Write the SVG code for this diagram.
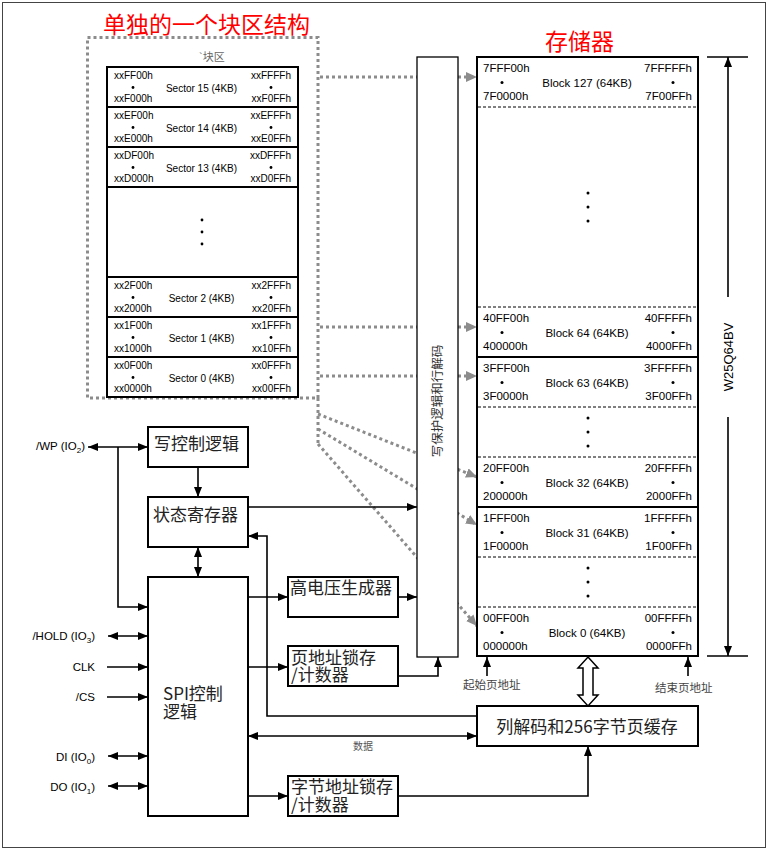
<svg xmlns="http://www.w3.org/2000/svg" width="769" height="850" viewBox="0 0 769 850">
<style>
.box{fill:#fff;stroke:#000;stroke-width:2}
.thin{fill:#fff;stroke:#000;stroke-width:1.3}
.ln{fill:none;stroke:#000;stroke-width:1.6}
.gd{fill:none;stroke:#8c8c8c;stroke-width:3;stroke-dasharray:3 3}
.dash{fill:none;stroke:#000;stroke-width:1;stroke-dasharray:3 2}
.sep{fill:none;stroke:#000;stroke-width:1.8}
.s{font-family:"Liberation Sans",Arial,sans-serif;font-size:10px;fill:#000}
.m{font-family:"Liberation Sans",Arial,sans-serif;font-size:11.5px;fill:#000}
.sig{font-family:"Liberation Sans",Arial,sans-serif;font-size:11.5px;fill:#000;text-anchor:end}
.c{font-family:"Noto Sans CJK SC",sans-serif;font-size:17px;fill:#222}
.lab{font-family:"Noto Sans CJK SC",sans-serif;font-size:11.5px;fill:#444}
.red{font-family:"Noto Sans CJK SC",sans-serif;font-size:23px;fill:#f00}
.e{text-anchor:end}
.mid{text-anchor:middle}
</style>
<defs>
<marker id="ah" viewBox="0 0 10 8" refX="10" refY="4" markerWidth="10" markerHeight="8" markerUnits="userSpaceOnUse" orient="auto-start-reverse"><path d="M0,0L10,4L0,8z" fill="#000"/></marker>
<marker id="gh" viewBox="0 0 10 9" refX="10" refY="4.5" markerWidth="11" markerHeight="10" markerUnits="userSpaceOnUse" orient="auto"><path d="M0,0L10,4.5L0,9z" fill="#8c8c8c"/></marker>
</defs>
<rect x="2.5" y="2.5" width="763" height="845" fill="#fff" stroke="#444" stroke-width="1"/>

<text class="red" x="103" y="33">单独的一个块区结构</text>
<text class="red" x="545" y="50">存储器</text>

<g id="dotted-links">
<rect class="gd" x="87.5" y="37.5" width="230.5" height="360.5"/>
<path class="gd" d="M318,398V446"/>
<path class="gd" d="M320,77H477" marker-end="url(#gh)"/>
<path class="gd" d="M320,327H477" marker-end="url(#gh)"/>
<path class="gd" d="M320,376H477" marker-end="url(#gh)"/>
<path class="gd" d="M318,414L477,477" marker-end="url(#gh)"/>
<path class="gd" d="M318,429L477,525" marker-end="url(#gh)"/>
<path class="gd" d="M318,444L477,626" marker-end="url(#gh)"/>
</g>

<g id="sector-block">
<text x="199" y="60.5" font-family="Liberation Sans,Noto Sans CJK SC,sans-serif" font-size="11" fill="#666">`块区</text>
<rect class="box" x="107" y="67" width="191" height="330" fill="none"/>
<path class="sep" d="M107,107H298M107,147H298M107,187H298M107,277H298M107,317H298M107,357H298"/>
<g class="s">
<text x="114" y="79">xxFF00h</text><text x="114" y="102">xxF000h</text><text class="e" x="291" y="79">xxFFFFh</text><text class="e" x="291" y="102">xxF0FFh</text><text class="mid" x="201.5" y="91.5">Sector 15 (4KB)</text>
<text x="114" y="119">xxEF00h</text><text x="114" y="142">xxE000h</text><text class="e" x="291" y="119">xxEFFFh</text><text class="e" x="291" y="142">xxE0FFh</text><text class="mid" x="201.5" y="131.5">Sector 14 (4KB)</text>
<text x="114" y="159">xxDF00h</text><text x="114" y="182">xxD000h</text><text class="e" x="291" y="159">xxDFFFh</text><text class="e" x="291" y="182">xxD0FFh</text><text class="mid" x="201.5" y="171.5">Sector 13 (4KB)</text>
<text x="114" y="289">xx2F00h</text><text x="114" y="312">xx2000h</text><text class="e" x="291" y="289">xx2FFFh</text><text class="e" x="291" y="312">xx20FFh</text><text class="mid" x="201.5" y="301.5">Sector 2 (4KB)</text>
<text x="114" y="329">xx1F00h</text><text x="114" y="352">xx1000h</text><text class="e" x="291" y="329">xx1FFFh</text><text class="e" x="291" y="352">xx10FFh</text><text class="mid" x="201.5" y="341.5">Sector 1 (4KB)</text>
<text x="114" y="369">xx0F00h</text><text x="114" y="392">xx0000h</text><text class="e" x="291" y="369">xx0FFFh</text><text class="e" x="291" y="392">xx00FFh</text><text class="mid" x="201.5" y="381.5">Sector 0 (4KB)</text>
</g>
<g fill="#000">
<circle cx="133" cy="87.5" r="1.4"/><circle cx="271" cy="87.5" r="1.4"/>
<circle cx="133" cy="127.5" r="1.4"/><circle cx="271" cy="127.5" r="1.4"/>
<circle cx="133" cy="167.5" r="1.4"/><circle cx="271" cy="167.5" r="1.4"/>
<circle cx="133" cy="297.5" r="1.4"/><circle cx="271" cy="297.5" r="1.4"/>
<circle cx="133" cy="337.5" r="1.4"/><circle cx="271" cy="337.5" r="1.4"/>
<circle cx="133" cy="377.5" r="1.4"/><circle cx="271" cy="377.5" r="1.4"/>
<circle cx="202" cy="220" r="1.4"/><circle cx="202" cy="232" r="1.4"/><circle cx="202" cy="244" r="1.4"/>
</g>
</g>

<g id="decoder">
<rect class="thin" x="417" y="57" width="41" height="600"/>
<text transform="translate(442,401) rotate(-90)" font-family="Noto Sans CJK SC,sans-serif" font-size="12.5" fill="#333" text-anchor="middle">写保护逻辑和行解码</text>
</g>

<g id="memory">
<rect class="box" x="477" y="57" width="221" height="599"/>
<path class="dash" d="M478,107H697M478,307H697M478,407H697M478,457H697M478,557H697M478,607H697"/>
<path class="sep" d="M477,357H698M477,507H698"/>
<g class="m">
<text x="483" y="72">7FFF00h</text><text x="483" y="100">7F0000h</text><text class="e" x="692" y="72">7FFFFFh</text><text class="e" x="692" y="100">7F00FFh</text><text class="mid" x="587" y="87">Block 127 (64KB)</text>
<text x="483" y="322">40FF00h</text><text x="483" y="350">400000h</text><text class="e" x="692" y="322">40FFFFh</text><text class="e" x="692" y="350">4000FFh</text><text class="mid" x="587" y="337">Block 64 (64KB)</text>
<text x="483" y="372">3FFF00h</text><text x="483" y="400">3F0000h</text><text class="e" x="692" y="372">3FFFFFh</text><text class="e" x="692" y="400">3F00FFh</text><text class="mid" x="587" y="387">Block 63 (64KB)</text>
<text x="483" y="472">20FF00h</text><text x="483" y="500">200000h</text><text class="e" x="692" y="472">20FFFFh</text><text class="e" x="692" y="500">2000FFh</text><text class="mid" x="587" y="487">Block 32 (64KB)</text>
<text x="483" y="522">1FFF00h</text><text x="483" y="550">1F0000h</text><text class="e" x="692" y="522">1FFFFFh</text><text class="e" x="692" y="550">1F00FFh</text><text class="mid" x="587" y="537">Block 31 (64KB)</text>
<text x="483" y="622">00FF00h</text><text x="483" y="650">000000h</text><text class="e" x="692" y="622">00FFFFh</text><text class="e" x="692" y="650">0000FFh</text><text class="mid" x="587" y="637">Block 0 (64KB)</text>
</g>
<g fill="#000">
<circle cx="502" cy="82.5" r="1.5"/><circle cx="673" cy="82.5" r="1.5"/>
<circle cx="502" cy="332.5" r="1.5"/><circle cx="673" cy="332.5" r="1.5"/>
<circle cx="502" cy="382.5" r="1.5"/><circle cx="673" cy="382.5" r="1.5"/>
<circle cx="502" cy="482.5" r="1.5"/><circle cx="673" cy="482.5" r="1.5"/>
<circle cx="502" cy="532.5" r="1.5"/><circle cx="673" cy="532.5" r="1.5"/>
<circle cx="502" cy="632.5" r="1.5"/><circle cx="673" cy="632.5" r="1.5"/>
<circle cx="588" cy="193" r="1.5"/><circle cx="588" cy="207" r="1.5"/><circle cx="588" cy="221" r="1.5"/>
<circle cx="588" cy="418" r="1.5"/><circle cx="588" cy="432" r="1.5"/><circle cx="588" cy="446" r="1.5"/>
<circle cx="588" cy="568" r="1.5"/><circle cx="588" cy="582" r="1.5"/><circle cx="588" cy="596" r="1.5"/>
</g>
</g>

<g id="size-dim">
<path class="ln" d="M707,57H748M707,656H748"/>
<path class="ln" d="M728,297V57" marker-end="url(#ah)"/>
<path class="ln" d="M728,417V656" marker-end="url(#ah)"/>
<text transform="translate(733,357) rotate(-90)" font-family="Liberation Sans,Arial,sans-serif" font-size="13" text-anchor="middle" fill="#000">W25Q64BV</text>
</g>

<g id="write-ctrl"><rect class="box" x="148" y="427" width="100" height="40"/><text class="c" x="154" y="450">写控制逻辑</text></g>
<g id="status-reg"><rect class="box" x="148" y="497" width="100" height="50"/><text class="c" x="153" y="521">状态寄存器</text></g>
<g id="spi-logic"><rect class="box" x="148" y="577" width="100" height="239"/><text class="c"><tspan x="163" y="700">SPI控制</tspan><tspan x="163" y="718">逻辑</tspan></text></g>
<g id="hv-gen"><rect class="box" x="288" y="577" width="110" height="40"/><text class="c" x="290" y="594">高电压生成器</text></g>
<g id="page-addr"><rect class="box" x="288" y="646" width="110" height="40"/><text class="c"><tspan x="291" y="663.5">页地址锁存</tspan><tspan x="291" y="681">/计数器</tspan></text></g>
<g id="byte-addr"><rect class="box" x="288" y="776" width="110" height="40"/><text class="c"><tspan x="291" y="793">字节地址锁存</tspan><tspan x="291" y="811">/计数器</tspan></text></g>
<g id="col-decoder"><rect class="box" x="477" y="706" width="221" height="40"/><text class="c mid" x="587" y="732.5">列解码和256字节页缓存</text></g>

<g id="signals">
<text class="sig" x="85" y="450">/WP (IO<tspan font-size="8" dy="3">2</tspan><tspan dy="-3">)</tspan></text>
<text class="sig" x="95" y="640">/HOLD (IO<tspan font-size="8" dy="3">3</tspan><tspan dy="-3">)</tspan></text>
<text class="sig" x="95" y="671">CLK</text>
<text class="sig" x="95" y="701">/CS</text>
<text class="sig" x="95" y="760.5">DI (IO<tspan font-size="8" dy="3">0</tspan><tspan dy="-3">)</tspan></text>
<text class="sig" x="95" y="790.5">DO (IO<tspan font-size="8" dy="3">1</tspan><tspan dy="-3">)</tspan></text>
<text class="lab" x="463" y="689">起始页地址</text>
<text class="lab" x="655" y="692">结束页地址</text>
<text x="363" y="749.5" font-family="Noto Sans CJK SC,sans-serif" font-size="10" fill="#555" text-anchor="middle">数据</text>
</g>

<g id="connectors">
<path class="ln" d="M88,447H148" marker-start="url(#ah)" marker-end="url(#ah)"/>
<path class="ln" d="M118,447V607H148" marker-end="url(#ah)"/>
<path class="ln" d="M108,636H148" marker-start="url(#ah)" marker-end="url(#ah)"/>
<path class="ln" d="M107,667H148" marker-end="url(#ah)"/>
<path class="ln" d="M107,697H148" marker-end="url(#ah)"/>
<path class="ln" d="M108,756H148" marker-start="url(#ah)" marker-end="url(#ah)"/>
<path class="ln" d="M108,786H148" marker-start="url(#ah)" marker-end="url(#ah)"/>
<path class="ln" d="M198,467V497" marker-end="url(#ah)"/>
<path class="ln" d="M198,547V577" marker-start="url(#ah)" marker-end="url(#ah)"/>
<path class="ln" d="M248,507H417" marker-end="url(#ah)"/>
<path class="ln" d="M477,716H267V536H248" marker-end="url(#ah)"/>
<path class="ln" d="M248,597H288" marker-end="url(#ah)"/>
<path class="ln" d="M398,597H417" marker-end="url(#ah)"/>
<path class="ln" d="M248,667H288" marker-end="url(#ah)"/>
<path class="ln" d="M398,676H438V657" marker-end="url(#ah)"/>
<path class="ln" d="M248,736H477" marker-start="url(#ah)" marker-end="url(#ah)"/>
<path class="ln" d="M248,796H288" marker-end="url(#ah)"/>
<path class="ln" d="M398,796H588V746" marker-end="url(#ah)"/>
<path class="ln" d="M487,676V657" marker-end="url(#ah)"/>
<path class="ln" d="M688,676V657" marker-end="url(#ah)"/>
<path d="M588,657L598,668L593,668L593,695L598,695L588,706L578,695L583,695L583,668L578,668Z" fill="#fff" stroke="#000" stroke-width="1.5"/>
</g>
</svg>
